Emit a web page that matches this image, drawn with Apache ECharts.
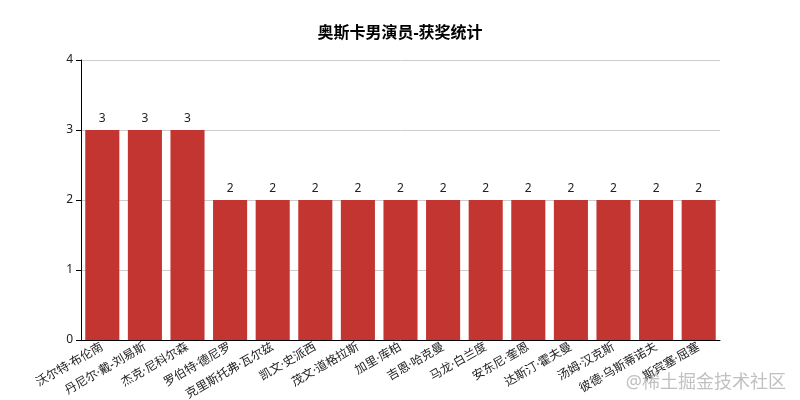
<!DOCTYPE html>
<html>
<head>
<meta charset="utf-8">
<script src="https://cdn.jsdelivr.net/npm/echarts@6/dist/echarts.min.js"></script>
<style>
  html, body { margin: 0; padding: 0; background: #fff; }
  #main { width: 800px; height: 400px; }
</style>
</head>
<body>
<div id="main"></div>
<script>
var actors = ['沃尔特·布伦南', '丹尼尔·戴-刘易斯', '杰克·尼科尔森', '罗伯特·德尼罗', '克里斯托弗·瓦尔兹',
    '凯文·史派西', '茂文·道格拉斯', '加里·库柏', '吉恩·哈克曼', '马龙·白兰度',
    '安东尼·奎恩', '达斯汀·霍夫曼', '汤姆·汉克斯', '彼德·乌斯蒂诺夫', '斯宾塞·屈塞'];
var awards = [3, 3, 3, 2, 2, 2, 2, 2, 2, 2, 2, 2, 2, 2, 2];

var chartDom = document.getElementById('main');
var myChart = echarts.init(chartDom);
var option;

// narrow middle dot comes from Noto Sans, CJK glyphs fall back to Noto Sans CJK
var font = '"Noto Sans", "Noto Sans CJK SC", sans-serif';

option = {
    textStyle: {
        fontFamily: font
    },
    title: {
        text: '奥斯卡男演员-获奖统计',
        left: 'center',
        top: 20,
        textStyle: {
            fontSize: 16,
            fontWeight: 'bold',
            color: '#000',
            fontFamily: font
        }
    },
    grid: {
        left: 81,
        right: 80,
        top: 60,
        bottom: 60,
        outerBoundsMode: 'none'
    },
    xAxis: {
        type: 'category',
        data: actors,
        axisLine: { lineStyle: { color: '#000' } },
        axisTick: { lineStyle: { color: '#000' } },
        axisLabel: {
            interval: 0,
            rotate: 30,
            color: '#222',
            fontSize: 12,
            margin: 6,
            fontFamily: font
        }
    },
    yAxis: {
        type: 'value',
        min: 0,
        max: 4,
        interval: 1,
        axisLine: { show: true, lineStyle: { color: '#000' } },
        axisTick: { show: true, lineStyle: { color: '#000' } },
        axisLabel: { color: '#222', fontSize: 12, fontFamily: font },
        splitLine: { lineStyle: { color: '#ccc' } }
    },
    series: [{
        name: '获奖次数',
        type: 'bar',
        data: awards,
        barCategoryGap: '20%',
        itemStyle: { color: '#c23531' },
        label: {
            show: true,
            position: 'top',
            color: '#222',
            fontSize: 12,
            fontFamily: font
        }
    }],
    graphic: [{
        type: 'text',
        right: 14,
        bottom: 8,
        z: 100,
        style: {
            text: '@稀土掘金技术社区',
            fontSize: 18,
            fill: 'rgba(130,130,130,0.5)',
            fontFamily: font
        }
    }]
};
option && myChart.setOption(option);
</script>
</body>
</html>
